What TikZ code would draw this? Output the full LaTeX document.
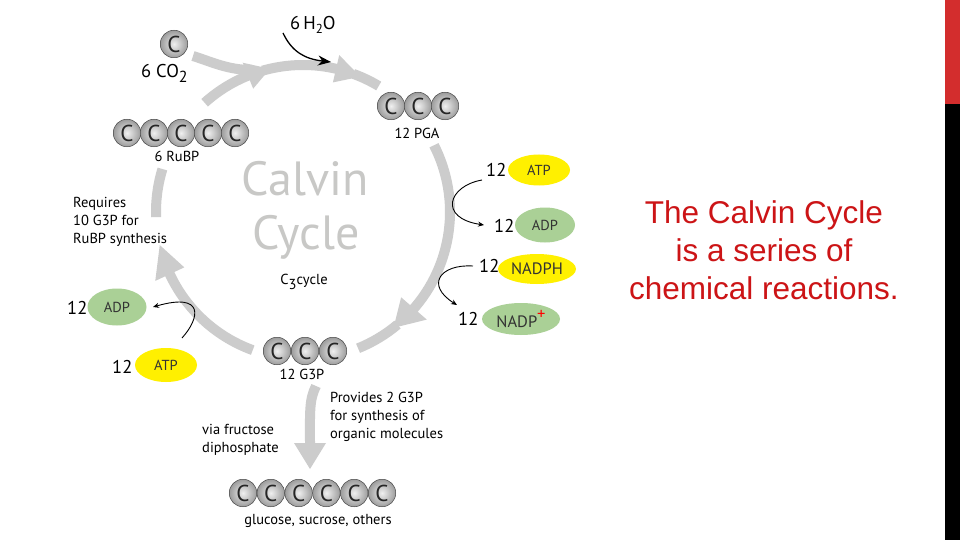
\documentclass[tikz,border=0pt]{standalone}
\usepackage{fontspec}
\setmainfont{PT Sans}
\newfontfamily\arialf{Liberation Sans}
\usetikzlibrary{arrows.meta,calc,shapes.geometric}
\definecolor{bandgray}{RGB}{204,204,204}
\definecolor{ovyellow}{RGB}{255,240,0}
\definecolor{ovgreen}{RGB}{170,208,150}
\definecolor{titlered}{RGB}{204,20,22}
\definecolor{barred}{RGB}{211,45,45}
\definecolor{bigtext}{RGB}{200,200,198}
\newcommand\cycHead[3]{\fill[bandgray] ($(cc)+(#1:{147-#3})$) -- ($(cc)+(#1:{147+#3})$) -- ($(cc)+(#2:147)$) -- cycle;}
\newcommand\cycBand[2]{\draw[band] ($(cc)+(#1:147)$) arc[start angle=#1,end angle=#2,radius=147];}
\begin{document}
\begin{tikzpicture}[x=1pt,y=-1pt,
  band/.style={draw=bandgray,line width=10pt},
  ball/.style={circle,minimum size=27.5pt,inner sep=0pt,shading=radial,inner color=gray!12,outer color=gray!78,draw=gray!55!black,line width=0.5pt,font=\fontsize{23}{23}\selectfont,text=black!85},
  lbl/.style={font=\fontsize{14.5}{14.5}\selectfont,inner sep=0pt,anchor=base,text=black},
  lblw/.style={lbl,anchor=base west},
  num/.style={font=\fontsize{18.5}{18.5}\selectfont,inner sep=0pt,anchor=base west},
  oval/.style={ellipse,inner sep=0pt,font=\fontsize{14.5}{14.5}\selectfont,text=black!80},
  yov/.style={oval,fill=ovyellow},
  gov/.style={oval,fill=ovgreen},
  blk/.style={draw=black,line width=0.9pt,-{Stealth[length=6pt,width=5pt]}},
  title/.style={font=\arialf\fontsize{31.5}{31.5}\selectfont,text=titlered,inner sep=0pt,anchor=base}
]
\useasboundingbox (0,0) rectangle (960,540);
\fill[white] (0,0) rectangle (960,540);

% right bar
\fill[barred] (945,0) rectangle (960,104);
\fill[black] (945,104) rectangle (960,540);

% cycle
\coordinate (cc) at (303,212);
\cycBand{228}{250}
\cycHead{248}{257}{14}
\cycBand{254}{284}
\cycHead{283}{293}{14}
\cycBand{290}{301}
\cycBand{333}{402}
\cycHead{401}{412}{17}
\cycBand{410}{428}
\cycBand{110}{157}
\cycHead{155}{167}{16}
\cycBand{178}{197}

% CO2 input band
\coordinate (co2s) at (193,56);
\coordinate (co2e) at (252,70);
\draw[band] (co2s) .. controls (212,62) and (228,70) .. (co2e);

% output band
\coordinate (outs) at (316,386);
\coordinate (oute) at (310,445);
\draw[band] (outs) .. controls (309,400) and (310,412) .. (oute);
\fill[bandgray] (294,443) -- (326,443) -- (310,469) -- cycle;

% big text
\node[font=\fontsize{48}{48}\selectfont,text=bigtext,inner sep=0pt,anchor=base] (calvin) at (305,196) {Calvin};
\node[font=\fontsize{48}{48}\selectfont,text=bigtext,inner sep=0pt,anchor=base] (cycle) at (306,249) {Cycle};
\node[lbl] (c3) at (304,284) {C\raisebox{-5pt}{3}cycle};

% spheres
\node[ball] (co2c) at (174,44) {C};
\foreach \i/\x in {1/127,2/154,3/181,4/208,5/235} \node[ball] (rubp\i) at (\x,133) {C};
\foreach \i/\x in {1/391,2/418,3/445} \node[ball] (pga\i) at (\x,106) {C};
\foreach \i/\x in {1/277,2/305,3/333} \node[ball] (gtp\i) at (\x,351) {C};
\foreach \i/\x in {1/243,2/270.8,3/298.6,4/326.4,5/354.2,6/382} \node[ball] (glu\i) at (\x,493) {C};

% molecule labels
\node[font=\fontsize{18.5}{18.5}\selectfont,inner sep=0pt,anchor=base west] (co2lbl) at (141,78) {6 CO\raisebox{-5pt}{\fontsize{16}{16}\selectfont 2}};
\node[font=\fontsize{18.5}{18.5}\selectfont,inner sep=0pt,anchor=base west] (h2olbl) at (290,30) {6\,H\raisebox{-4pt}{\fontsize{13}{13}\selectfont 2}O};
\node[lbl] (pgalbl) at (417,139) {12 PGA};
\node[lbl] (rubplbl) at (177,162) {6 RuBP};
\node[lbl] (g3plbl) at (302,379) {12 G3P};
\node[lbl] (glulbl) at (318,524) {glucose, sucrose, others};

\node[lblw] (req1) at (73,207) {Requires};
\node[lblw] (req2) at (73,225) {10 G3P for};
\node[lblw] (req3) at (73,243) {RuBP synthesis};
\node[lblw] (prov1) at (330,402) {Provides 2 G3P};
\node[lblw] (prov2) at (330,420) {for synthesis of};
\node[lblw] (prov3) at (330,438) {organic molecules};
\node[lblw] (via1) at (202,434) {via fructose};
\node[lblw] (via2) at (202,452) {diphosphate};

% ovals
\node[yov,minimum width=62pt,minimum height=31pt] (ratp) at (539,170) {ATP};
\node[gov,minimum width=60pt,minimum height=35pt] (radp) at (545,225) {ADP};
\node[yov,minimum width=78pt,minimum height=30pt,font=\fontsize{16.5}{16.5}\selectfont] (rnadph) at (537,269) {NADPH};
\node[gov,minimum width=78pt,minimum height=32pt,font=\fontsize{16.5}{16.5}\selectfont] (rnadp) at (521,319) {NADP\raisebox{0.45em}{\textcolor{red}{+}}};
\node[gov,minimum width=59pt,minimum height=37pt] (ladp) at (117,307) {ADP};
\node[yov,minimum width=62pt,minimum height=34pt] (latp) at (166,365) {ATP};

\node[num] (n1) at (486,177) {12};
\node[num] (n2) at (494,232) {12};
\node[num] (n3) at (479,272) {12};
\node[num] (n4) at (458,325) {12};
\node[num] (n5) at (67,314) {12};
\node[num] (n6) at (112,373) {12};

% black arrows
\coordinate (h2os) at (283,33);
\coordinate (h2oe) at (331,62);
\draw[draw=black,line width=1.3pt,-{Stealth[length=13pt,width=10pt]}] (h2os) .. controls (292,52) and (305,59) .. (h2oe);
\coordinate (a1s) at (482,180);
\coordinate (a1e) at (484,225);
\draw[blk] (a1s) .. controls (448,186) and (438,218) .. (a1e);
\coordinate (a2s) at (473,266);
\coordinate (a2e) at (457,305);
\draw[blk] (a2s) .. controls (440,264) and (425,285) .. (a2e);
\coordinate (a3s) at (182,338);
\coordinate (a3e) at (153,307);
\draw[blk] (a3s) .. controls (200,318) and (205,292) .. (a3e);

% title text
\node[title] (t1) at (764,223) {The Calvin Cycle};
\node[title] (t2) at (764,261) {is a series of};
\node[title] (t3) at (764,299) {chemical reactions.};
\end{tikzpicture}
\end{document}
